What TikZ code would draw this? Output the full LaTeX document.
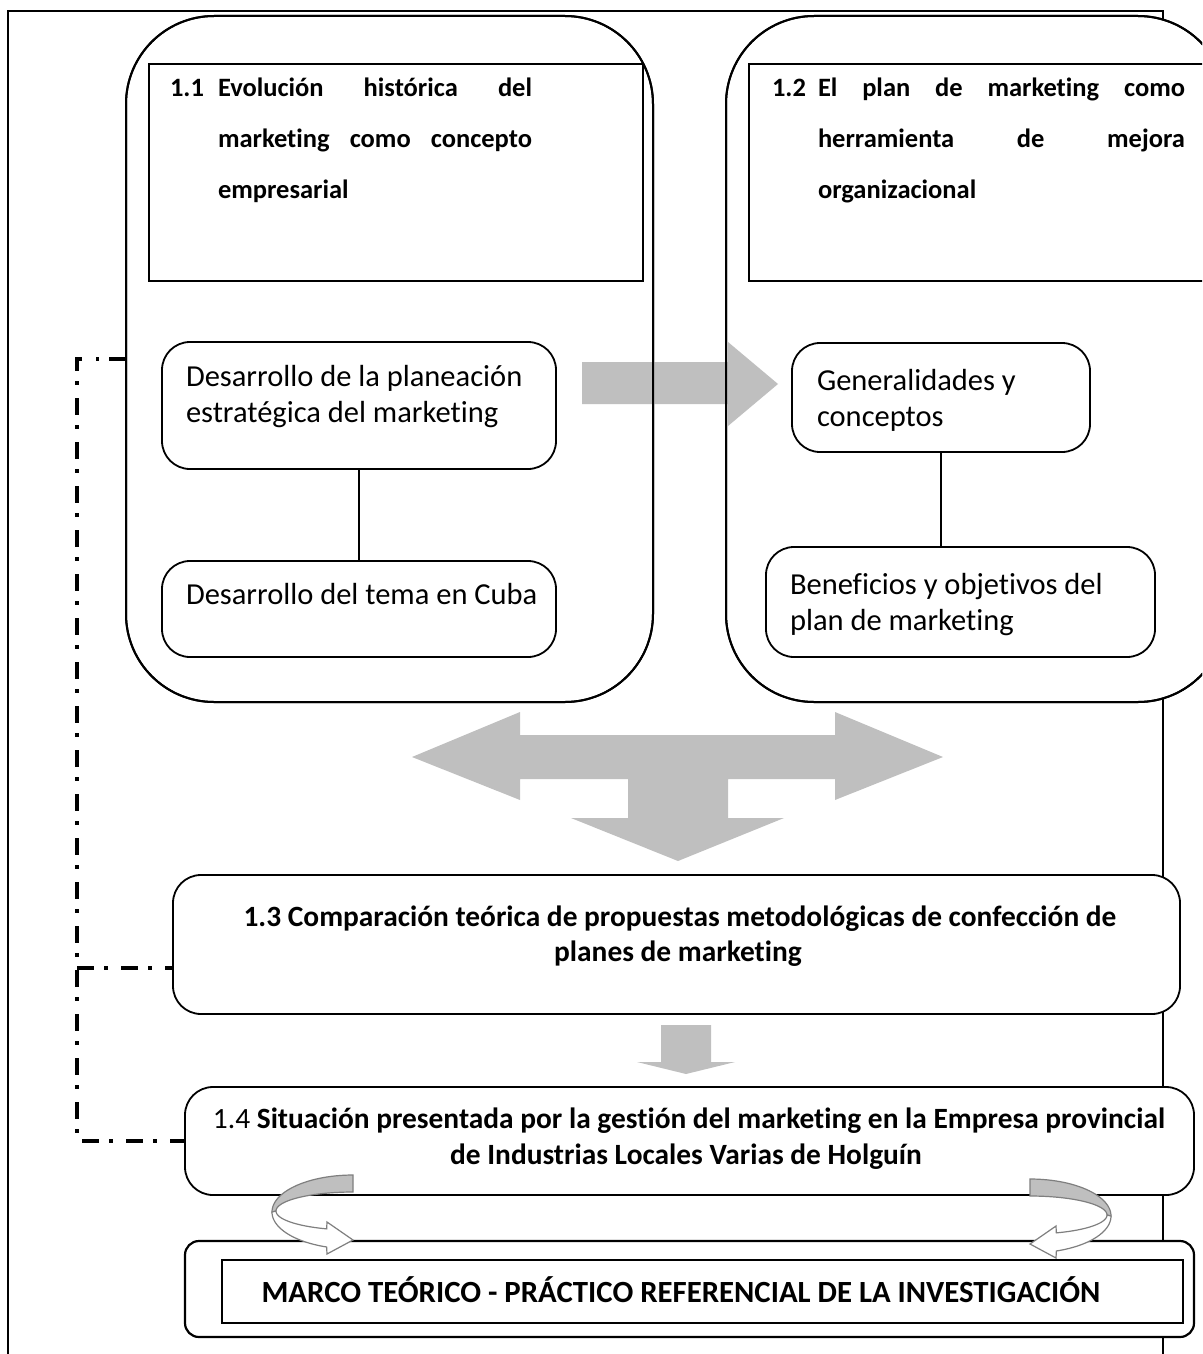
\documentclass[tikz,border=0pt]{standalone}
\usepackage{fontspec}
\setmainfont{Carlito}[Ligatures=NoCommon]
\definecolor{blockgrey}{RGB}{191,191,191}
\definecolor{ribbonedge}{RGB}{127,127,127}
\newcommand\hdrfont{\fontsize{26.5}{30}\selectfont\bfseries}
\newcommand\txtfont{\fontsize{30.5}{36}\selectfont}
\newcommand\capfont{\fontsize{29.4}{35}\selectfont\bfseries}
\newcommand\titlefont{\fontsize{30.8}{36}\selectfont\bfseries}

\begin{document}
\begin{tikzpicture}[x=1pt,y=-1pt,
  every node/.style={inner sep=0pt, outer sep=0pt},
  sectionbox/.style={draw, fill=white, line width=2pt, rounded corners=88pt},
  titlebox/.style={draw, fill=white, line width=2pt},
  topicbox/.style={draw, fill=white, line width=1.8pt, rounded corners=28pt},
  blockarrow/.style={fill=blockgrey},
  ribbon/.style={draw=ribbonedge, line width=1.2pt},
  linkline/.style={line width=3.5pt, dash pattern=on 17pt off 10pt on 3.5pt off 13.5pt},
  txt/.style={anchor=base west, font=\txtfont},
  hdr/.style={anchor=base west, font=\hdrfont},
  boldline/.style={anchor=base, font=\capfont},
]
\useasboundingbox (0,0) rectangle (1202,1354);
\clip (0,0) rectangle (1202,1354);

% page frame
\draw[line width=2pt] (8,1360) -- (8,11) -- (1163,11) -- (1163,1360);

% the two section panels
\node[sectionbox, minimum width=527pt, minimum height=686pt, anchor=north west] (secL) at (126,16) {};
\node[sectionbox, minimum width=500pt, minimum height=686pt, anchor=north west] (secR) at (726,16) {};

% arrow between the panels, under their outlines
\fill[blockarrow] (582,362) -- (728,362) -- (728,342) -- (778,384) -- (728,426) -- (728,404) -- (582,404) -- cycle;
\draw[line width=2pt, rounded corners=88pt] (secL.north west) rectangle (secL.south east);
\draw[line width=2pt, rounded corners=88pt] (secR.north west) rectangle (secR.south east);

% section titles
\node[titlebox, minimum width=494pt, minimum height=217pt, anchor=north west] (titL) at (149,64) {};
\node[titlebox, minimum width=470pt, minimum height=217pt, anchor=north west] (titR) at (749,64) {};

\node[hdr] (n11) at (170,96) {1.1};
\node[hdr] (t11a) at (218,96) {\makebox[314pt][s]{Evolución histórica del}};
\node[hdr] (t11b) at (218,147) {\makebox[314pt][s]{marketing como concepto}};
\node[hdr] (t11c) at (218,198) {empresarial};

\node[hdr] (n12) at (772,96) {1.2};
\node[hdr] (t12a) at (818,96) {\makebox[367pt][s]{El plan de marketing como}};
\node[hdr] (t12b) at (818,147) {\makebox[367pt][s]{herramienta de mejora}};
\node[hdr] (t12c) at (818,198) {organizacional};

% topics of each section
\node[topicbox, minimum width=394pt, minimum height=127pt, anchor=north west] (plan) at (162,342) {};
\node[txt] (plan1) at (186,386) {Desarrollo de la planeación};
\node[txt] (plan2) at (186,422) {estratégica del marketing};
\node[topicbox, minimum width=394pt, minimum height=96pt, anchor=north west] (cuba) at (162,561) {};
\node[txt] (cuba1) at (186,604) {Desarrollo del tema en Cuba};

\node[topicbox, minimum width=298pt, minimum height=109pt, anchor=north west] (gen) at (792,343) {};
\node[txt] (gen1) at (817,390) {Generalidades y};
\node[txt] (gen2) at (817,426) {conceptos};
\node[topicbox, minimum width=389pt, minimum height=110pt, anchor=north west] (ben) at (766,547) {};
\node[txt] (ben1) at (790,594) {Beneficios y objetivos del};
\node[txt] (ben2) at (790,630) {plan de marketing};

\draw[line width=1.5pt] (plan.south) -- (cuba.north);
\draw[line width=1.5pt] (gen.south) -- (gen.south |- ben.north);

% branching arrow towards 1.3
\fill[blockarrow] (412,757) -- (520,712) -- (520,735) -- (835,735) -- (835,712) -- (943,757)
  -- (835,800) -- (835,779) -- (728,779) -- (728,818) -- (784,818) -- (678,861)
  -- (571,818) -- (628,818) -- (628,779) -- (520,779) -- (520,800) -- cycle;

% 1.3
\node[topicbox, minimum width=1007pt, minimum height=139pt, anchor=north west] (comp) at (173,875) {};
\node[boldline] (comp1) at (680,926) {1.3 Comparación teórica de propuestas metodológicas de confección de};
\node[boldline] (comp2) at (678,961) {planes de marketing};

\fill[blockarrow] (661,1025) -- (711,1025) -- (711,1062) -- (735,1062) -- (686,1074) -- (637,1062) -- (661,1062) -- cycle;

% 1.4
\node[topicbox, minimum width=1009pt, minimum height=108pt, anchor=north west] (sit) at (185,1087) {};
\node[boldline] (sit1) at (689,1128) {{\mdseries 1.4} Situación presentada por la gestión del marketing en la Empresa provincial};
\node[boldline] (sit2) at (686,1164) {de Industrias Locales Varias de Holguín};

% overall result
\node[draw, fill=white, line width=2.2pt, rounded corners=14pt, minimum width=1009pt, minimum height=96pt, anchor=north west] (outer) at (185,1241) {};
\node[draw, line width=2.2pt, minimum width=961pt, minimum height=63pt, anchor=north west] (marco) at (222,1260) {};
\node[anchor=base, font=\titlefont] (marcotxt) at (681,1302) {MARCO TEÓRICO - PRÁCTICO REFERENCIAL DE LA INVESTIGACIÓN};

% dash-dot links on the left
\coordinate (bus) at (77,0);
\draw[linkline] (secL.west) -- (secL.west -| bus) -- (bus |- sit.west) -- (sit.west);
\draw[linkline] (bus |- 0,968) -- (comp.west |- 0,968);

% curled ribbons
\filldraw[ribbon, fill=blockgrey]
  plot[domain=90:180, samples=30] ({353+81*cos(\x)}, {1212-37*sin(\x)})
  -- plot[domain=180:90, samples=30] ({353+77*cos(\x)}, {1211-19*sin(\x)}) -- cycle;
\filldraw[ribbon, fill=white]
  plot[domain=180:251, samples=30] ({353+81*cos(\x)}, {1212-37*sin(\x)})
  -- (327,1254) -- (353,1240) -- (327,1222)
  -- plot[domain=250:180, samples=30] ({353+77*cos(\x)}, {1211-19*sin(\x)}) -- cycle;

\filldraw[ribbon, fill=blockgrey]
  plot[domain=90:180, samples=30] ({1030-81*cos(\x)}, {1216-37*sin(\x)})
  -- plot[domain=180:90, samples=30] ({1030-77*cos(\x)}, {1215-19*sin(\x)}) -- cycle;
\filldraw[ribbon, fill=white]
  plot[domain=180:251, samples=30] ({1030-81*cos(\x)}, {1216-37*sin(\x)})
  -- (1056,1258) -- (1030,1244) -- (1056,1226)
  -- plot[domain=250:180, samples=30] ({1030-77*cos(\x)}, {1215-19*sin(\x)}) -- cycle;
\end{tikzpicture}
\end{document}
